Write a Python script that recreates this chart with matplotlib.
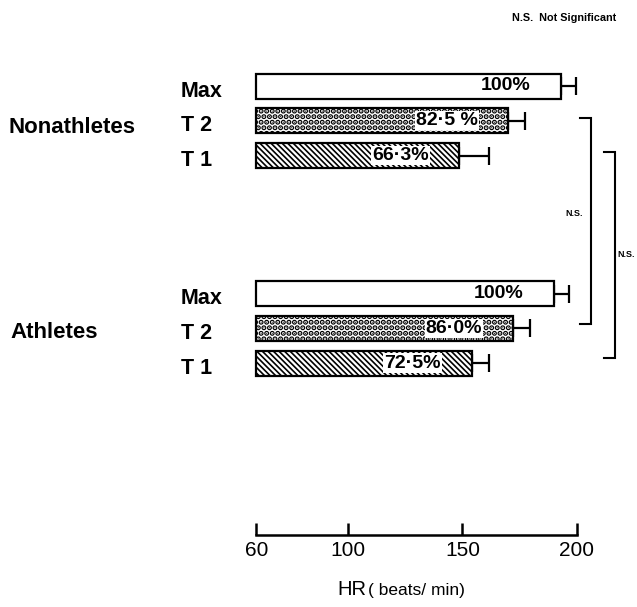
import matplotlib
matplotlib.use("Agg")
import matplotlib.pyplot as plt

# ---- data -------------------------------------------------------------
groups = ["Nonathletes", "Athletes"]
conditions = ["Max", "T 2", "T 1"]
hr_nonathletes = [193.0, 170.0, 148.5]
sd_nonathletes = [6.5, 7.5, 13.0]
hr_athletes = [190.0, 172.0, 154.0]
sd_athletes = [6.5, 7.5, 7.5]
pct_nonathletes = ["100%", "82·5 %", "66·3%"]
pct_athletes = ["100%", "86·0%", "72·5%"]
x_ticks = [60, 100, 150, 200]
x_base = 60

# ---- layout (pixel units, origin top-left) ----------------------------
W, H, DPI = 637, 607, 100
AXIS_Y = 535            # pixel row of the HR axis line
X60_PX = 256.4          # pixel column of 60 beats/min
PX_PER_BPM = 2.29
group_top = [86.0, 293.5]
row_step = 34.8
bar_h = 25

plt.rcParams["font.family"] = ["Liberation Sans", "DejaVu Sans"]

fig = plt.figure(figsize=(W / DPI, H / DPI), dpi=DPI)
ax = fig.add_axes([0, (H - AXIS_Y) / H, 1, AXIS_Y / H])
ax.set_xlim(x_base - X60_PX / PX_PER_BPM, x_base + (W - X60_PX) / PX_PER_BPM)
ax.set_ylim(AXIS_Y, 0)


def fig_xy(px, py):
    return px / W, 1 - py / H


hatches = ["", "...", "\\\\\\\\\\\\"]
hatch_lw = [1.0, 2.7, 1.2]

series = [(hr_nonathletes, sd_nonathletes, pct_nonathletes),
          (hr_athletes, sd_athletes, pct_athletes)]

for g, (hr, sd, pct) in enumerate(series):
    ys = [group_top[g] + i * row_step for i in range(len(conditions))]
    for i, y in enumerate(ys):
        with plt.rc_context({"hatch.linewidth": hatch_lw[i]}):
            bars = ax.barh([y], [hr[i] - x_base], left=x_base, height=bar_h,
                           facecolor="white", edgecolor="black",
                           linewidth=1.6, hatch=hatches[i], zorder=2)
        for b in bars:
            if hasattr(b, "set_hatch_linewidth"):
                b.set_hatch_linewidth(hatch_lw[i])
        ax.errorbar([hr[i]], [y], xerr=[[0], [sd[i]]], fmt="none",
                    ecolor="black", elinewidth=1.6, capsize=6.2,
                    capthick=1.6, zorder=1)
        ax.annotate(pct[i], xy=(hr[i], y), xytext=(-22, 0),
                    textcoords="offset points", ha="right", va="center",
                    fontsize=14, fontweight="bold", zorder=4,
                    bbox=dict(boxstyle="square,pad=0.06", fc="white",
                              ec="none"))
        fig.text(*fig_xy(181, y + 10.5), conditions[i], fontsize=15.5,
                 fontweight="bold", ha="left", va="baseline")

fig.text(*fig_xy(8, 133), groups[0], fontsize=16, fontweight="bold",
         ha="left", va="baseline")
fig.text(*fig_xy(10, 338), groups[1], fontsize=16, fontweight="bold",
         ha="left", va="baseline")

# significance brackets between the two groups
def bracket(x_arm, x_bar, y_top, y_bot):
    ax.plot([x_arm, x_bar, x_bar, x_arm], [y_top, y_top, y_bot, y_bot],
            color="black", linewidth=1.5, clip_on=False,
            solid_joinstyle="miter")

bracket(201.3, 206.0, 118, 324)
bracket(211.8, 216.5, 152, 358)
fig.text(*fig_xy(583, 213), "N.S.", fontsize=6.5, fontweight="bold",
         ha="right", va="center")
fig.text(*fig_xy(617, 255), "N.S.", fontsize=6.5, fontweight="bold",
         ha="left", va="center")
fig.text(*fig_xy(512, 21), "N.S.  Not Significant", fontsize=7.8,
         fontweight="bold", ha="left", va="baseline")

# HR axis
for side in ["top", "right", "left"]:
    ax.spines[side].set_visible(False)
ax.spines["bottom"].set_bounds(x_ticks[0], x_ticks[-1])
ax.spines["bottom"].set_linewidth(1.8)
ax.set_xticks(x_ticks)
ax.set_xticklabels([str(t) for t in x_ticks])
ax.tick_params(axis="x", direction="in", length=8.5, width=1.8, pad=4,
               labelsize=15)
ax.set_yticks([])
ax.patch.set_alpha(0)

fig.text(*fig_xy(337, 595), "HR", fontsize=14.5, ha="left", va="baseline")
fig.text(*fig_xy(368, 595), "( beats/ min)", fontsize=12.5, ha="left",
         va="baseline")

fig.savefig("out.png", dpi=DPI)
